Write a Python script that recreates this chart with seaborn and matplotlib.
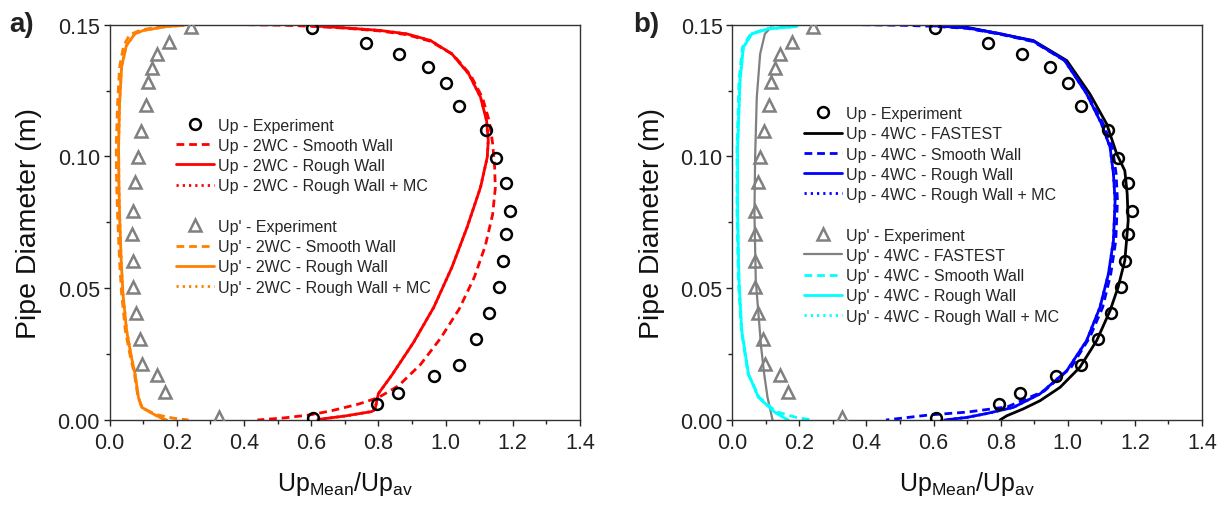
import matplotlib
matplotlib.use("Agg")
import matplotlib.pyplot as plt
from matplotlib.lines import Line2D
from matplotlib.ticker import MultipleLocator, FormatStrFormatter
import seaborn as sns

# ---------------------------------------------------------------- data
# Measured particle velocity profiles (shared by both panels)
d_exp_up = [0.1488, 0.1430, 0.1390, 0.1338, 0.1280, 0.1190, 0.1099, 0.0994, 0.0898, 0.0792,
            0.0705, 0.0605, 0.0506, 0.0406, 0.0307, 0.0210, 0.0166, 0.0102, 0.0061, 0.0008]
up_exp = [0.604, 0.763, 0.862, 0.947, 1.001, 1.040, 1.121, 1.150, 1.180, 1.192,
          1.180, 1.171, 1.159, 1.130, 1.091, 1.040, 0.965, 0.857, 0.796, 0.606]

d_exp_rms = [0.1490, 0.1433, 0.1390, 0.1335, 0.1284, 0.1195, 0.1096, 0.0999, 0.0902, 0.0794,
             0.0706, 0.0605, 0.0506, 0.0407, 0.0307, 0.0212, 0.0170, 0.0107, 0.0010]
rms_exp = [0.242, 0.177, 0.142, 0.126, 0.116, 0.108, 0.094, 0.084, 0.076, 0.069,
           0.068, 0.069, 0.069, 0.078, 0.091, 0.098, 0.142, 0.165, 0.327]

# Two-way coupling, mean velocity
up2_rough_v = [0.600, 0.700, 0.806, 0.885, 0.955, 1.019, 1.069, 1.104, 1.122, 1.127, 1.124,
               1.104, 1.064, 1.019, 0.965, 0.905, 0.840, 0.800, 0.790, 0.780, 0.700, 0.620]
up2_rough_d = [0.1496, 0.1488, 0.1478, 0.1465, 0.1440, 0.1389, 0.1313, 0.1225, 0.1136, 0.1060, 0.0997,
               0.0883, 0.0731, 0.0580, 0.0428, 0.0295, 0.0170, 0.0100, 0.0040, 0.0032, 0.0015, 0.0002]
up2_smooth_v = [0.410, 0.520, 0.600, 0.700, 0.806, 0.885, 0.955, 1.022, 1.074, 1.110, 1.130, 1.140,
                1.146, 1.148, 1.140, 1.118, 1.085, 1.040, 0.985, 0.925, 0.860, 0.800, 0.740,
                0.660, 0.600, 0.520, 0.440]
up2_smooth_d = [0.1500, 0.1498, 0.1494, 0.1487, 0.1476, 0.1462, 0.1437, 0.1387, 0.1310, 0.1222, 0.1134,
                0.1050, 0.0960, 0.0880, 0.0780, 0.0660, 0.0540, 0.0420, 0.0310, 0.0210, 0.0130,
                0.0085, 0.0060, 0.0035, 0.0020, 0.0008, 0.0000]

# Two-way coupling, velocity fluctuation
rms2_rough_v = [0.220, 0.170, 0.100, 0.075, 0.050, 0.036, 0.030, 0.027, 0.028, 0.030, 0.035,
                0.040, 0.051, 0.065, 0.076, 0.086, 0.096, 0.130, 0.150, 0.170]
rms2_rough_d = [0.1497, 0.1493, 0.1478, 0.1465, 0.1420, 0.1340, 0.1200, 0.1035, 0.0900, 0.0780, 0.0600,
                0.0480, 0.0339, 0.0240, 0.0175, 0.0086, 0.0048, 0.0023, 0.0010, 0.0000]
rms2_smooth_v = [0.200, 0.150, 0.090, 0.060, 0.042, 0.030, 0.024, 0.020, 0.021, 0.024, 0.030,
                 0.036, 0.047, 0.062, 0.074, 0.085, 0.098, 0.140, 0.190, 0.235]
rms2_smooth_d = [0.1500, 0.1494, 0.1478, 0.1462, 0.1420, 0.1340, 0.1200, 0.1035, 0.0900, 0.0780, 0.0600,
                 0.0480, 0.0339, 0.0240, 0.0175, 0.0086, 0.0045, 0.0020, 0.0007, 0.0000]

# Four-way coupling, mean velocity
up4_fastest_v = [0.620, 0.700, 0.798, 0.897, 0.997, 1.066, 1.116, 1.146, 1.170, 1.177, 1.180,
                 1.170, 1.150, 1.126, 1.086, 1.036, 0.977, 0.917, 0.867, 0.818, 0.798]
up4_fastest_d = [0.1496, 0.1490, 0.1465, 0.1440, 0.1364, 0.1237, 0.1123, 0.1009, 0.0946, 0.0858, 0.0756,
                 0.0605, 0.0504, 0.0415, 0.0301, 0.0200, 0.0124, 0.0073, 0.0042, 0.0016, 0.0000]
up4_rough_v = [0.600, 0.700, 0.798, 0.897, 0.990, 1.055, 1.100, 1.126, 1.136, 1.141, 1.136,
               1.121, 1.096, 1.056, 0.997, 0.917, 0.838, 0.760, 0.700, 0.633]
up4_rough_d = [0.1496, 0.1488, 0.1466, 0.1438, 0.1365, 0.1240, 0.1125, 0.1035, 0.0934, 0.0832, 0.0680,
               0.0554, 0.0428, 0.0301, 0.0187, 0.0099, 0.0048, 0.0025, 0.0010, 0.0000]
up4_smooth_v = [0.387, 0.500, 0.600, 0.700, 0.798, 0.897, 0.992, 1.058, 1.105, 1.133, 1.144,
                1.148, 1.143, 1.128, 1.104, 1.066, 1.010, 0.930, 0.820, 0.700, 0.586, 0.458]
up4_smooth_d = [0.1500, 0.1498, 0.1494, 0.1486, 0.1464, 0.1436, 0.1363, 0.1238, 0.1125, 0.1035, 0.0934,
                0.0832, 0.0680, 0.0554, 0.0428, 0.0315, 0.0200, 0.0110, 0.0050, 0.0030, 0.0019, 0.0000]

# Four-way coupling, velocity fluctuation
rms4_fastest_v = [0.115, 0.097, 0.083, 0.073, 0.068, 0.066, 0.070, 0.078, 0.086, 0.095, 0.105, 0.120]
rms4_fastest_d = [0.1490, 0.1465, 0.1389, 0.1225, 0.0997, 0.0782, 0.0529, 0.0402, 0.0276, 0.0175,
                  0.0086, 0.0000]
rms4_rough_v = [0.192, 0.107, 0.058, 0.033, 0.023, 0.016, 0.016, 0.020, 0.028, 0.048, 0.078,
                0.127, 0.150, 0.166]
rms4_rough_d = [0.1493, 0.1484, 0.1465, 0.1414, 0.1288, 0.1035, 0.0782, 0.0529, 0.0340, 0.0175, 0.0086,
                0.0029, 0.0012, 0.0000]
rms4_smooth_v = [0.200, 0.107, 0.055, 0.030, 0.020, 0.014, 0.014, 0.018, 0.027, 0.047, 0.080,
                 0.130, 0.190, 0.237]
rms4_smooth_d = [0.1500, 0.1486, 0.1466, 0.1414, 0.1288, 0.1035, 0.0782, 0.0529, 0.0340, 0.0175, 0.0086,
                 0.0032, 0.0010, 0.0000]

x_ticks = [0.0, 0.2, 0.4, 0.6, 0.8, 1.0, 1.2, 1.4]
y_ticks = [0.00, 0.05, 0.10, 0.15]

# ---------------------------------------------------------------- style
sns.set_style("ticks")
plt.rcParams["font.family"] = ["Liberation Sans", "DejaVu Sans"]
plt.rcParams["mathtext.fontset"] = "custom"
plt.rcParams["mathtext.rm"] = "Liberation Sans"
plt.rcParams["mathtext.it"] = "Liberation Sans:italic"
plt.rcParams["mathtext.bf"] = "Liberation Sans:bold"

RED, ORANGE, BLUE, CYAN, GREY = "#FF0000", "#FF8000", "#0000FF", "#00FFFF", "#808080"
DASH = (0, (2.8, 1.75))
DOT = (0, (0.8, 1.45))
LW = 2.0

W, H = 1232, 506
fig = plt.figure(figsize=(W / 100, H / 100), dpi=100)
ax_a = fig.add_axes([109.5 / W, 85 / H, 470.5 / W, 395.3 / H])
ax_b = fig.add_axes([732.3 / W, 85 / H, 469.7 / W, 395.3 / H])


def curve(ax, v, d, color, ls, label, lw=LW, z=2):
    sns.lineplot(x=v, y=d, ax=ax, color=color, linestyle=ls, linewidth=lw,
                 sort=False, estimator=None, legend=False, label=label, zorder=z)
    return ax.lines[-1]


def points(ax, v, d, marker, color, size, label):
    sns.lineplot(x=v, y=d, ax=ax, color=color, linestyle="none", marker=marker,
                 markersize=size, markerfacecolor="none", markeredgecolor=color,
                 markeredgewidth=1.8, sort=False, estimator=None, legend=False,
                 label=label, zorder=5)
    return ax.lines[-1]


blank = Line2D([], [], linestyle="none", label=" ")

# ---------------------------------------------------------------- panel a
h = []
h.append(points(ax_a, up_exp, d_exp_up, "o", "black", 7.8, "Up - Experiment"))
h.append(curve(ax_a, up2_smooth_v, up2_smooth_d, RED, DASH, "Up - 2WC - Smooth Wall"))
h.append(curve(ax_a, up2_rough_v, up2_rough_d, RED, "-", "Up - 2WC - Rough Wall"))
h.append(curve(ax_a, up2_rough_v, up2_rough_d, RED, DOT, "Up - 2WC - Rough Wall + MC"))
h.append(blank)
h.append(points(ax_a, rms_exp, d_exp_rms, "^", GREY, 8.5, "Up' - Experiment"))
h.append(curve(ax_a, rms2_smooth_v, rms2_smooth_d, ORANGE, DASH, "Up' - 2WC - Smooth Wall"))
h.append(curve(ax_a, rms2_rough_v, rms2_rough_d, ORANGE, "-", "Up' - 2WC - Rough Wall"))
h.append(curve(ax_a, rms2_rough_v, rms2_rough_d, ORANGE, DOT, "Up' - 2WC - Rough Wall + MC"))
legend_a = (h, (176, 118.5))

# ---------------------------------------------------------------- panel b
g = []
g.append(points(ax_b, up_exp, d_exp_up, "o", "black", 7.8, "Up - Experiment"))
g.append(curve(ax_b, up4_fastest_v, up4_fastest_d, "black", "-", "Up - 4WC - FASTEST"))
g.append(curve(ax_b, up4_smooth_v, up4_smooth_d, BLUE, DASH, "Up - 4WC - Smooth Wall"))
g.append(curve(ax_b, up4_rough_v, up4_rough_d, BLUE, "-", "Up - 4WC - Rough Wall"))
g.append(curve(ax_b, up4_rough_v, up4_rough_d, BLUE, DOT, "Up - 4WC - Rough Wall + MC"))
g.append(blank)
g.append(points(ax_b, rms_exp, d_exp_rms, "^", GREY, 8.5, "Up' - Experiment"))
g.append(curve(ax_b, rms4_fastest_v, rms4_fastest_d, GREY, "-", "Up' - 4WC - FASTEST", lw=1.6))
g.append(curve(ax_b, rms4_smooth_v, rms4_smooth_d, CYAN, DASH, "Up' - 4WC - Smooth Wall"))
g.append(curve(ax_b, rms4_rough_v, rms4_rough_d, CYAN, "-", "Up' - 4WC - Rough Wall"))
g.append(curve(ax_b, rms4_rough_v, rms4_rough_d, CYAN, DOT, "Up' - 4WC - Rough Wall + MC"))
legend_b = (g, (804, 107.0))

# ---------------------------------------------------------------- axes cosmetics
for ax, (handles, (lx, ly)), tag, tx in ((ax_a, legend_a, "a)", 9),
                                         (ax_b, legend_b, "b)", 633)):
    ax.set_xlim(0, 1.4)
    ax.set_ylim(0, 0.15)
    ax.set_xticks(x_ticks)
    ax.set_yticks(y_ticks)
    ax.xaxis.set_major_formatter(FormatStrFormatter("%.1f"))
    ax.yaxis.set_major_formatter(FormatStrFormatter("%.2f"))
    ax.xaxis.set_minor_locator(MultipleLocator(0.1))
    ax.yaxis.set_minor_locator(MultipleLocator(0.025))
    ax.tick_params(which="major", direction="out", length=4.5, width=1.0, labelsize=15.5,
                   colors="#222222", top=False, right=False)
    ax.tick_params(which="minor", direction="out", length=2.6, width=1.0,
                   colors="#222222", top=False, right=False)
    ax.tick_params(axis="x", which="major", pad=4)
    ax.tick_params(axis="y", which="major", pad=2.5)
    for s in ax.spines.values():
        s.set_visible(True)
        s.set_linewidth(1.0)
        s.set_color("#333333")
    ax.set_xlabel(r"Up$_{\mathrm{Mean}}$/Up$_{\mathrm{av}}$", fontsize=18, color="#111111")
    ax.set_ylabel("Pipe Diameter (m)", fontsize=20.5, color="#111111")
    ax.xaxis.set_label_coords(0.5, -0.125)
    ax.yaxis.set_label_coords(-0.143, 0.5)
    ax.legend(handles=handles, labels=[hh.get_label() for hh in handles],
              loc="upper left", bbox_to_anchor=(lx / W, 1 - ly / H),
              bbox_transform=fig.transFigure, frameon=False, fontsize=11.5,
              handlelength=2.38, handletextpad=0.25, labelspacing=0.33,
              borderpad=0, borderaxespad=0, numpoints=1)
    fig.text(tx / W, 1 - 32 / H, tag, fontsize=20, fontweight="bold",
             va="baseline", ha="left", color="#222222")

fig.savefig("out.png", dpi=100)
